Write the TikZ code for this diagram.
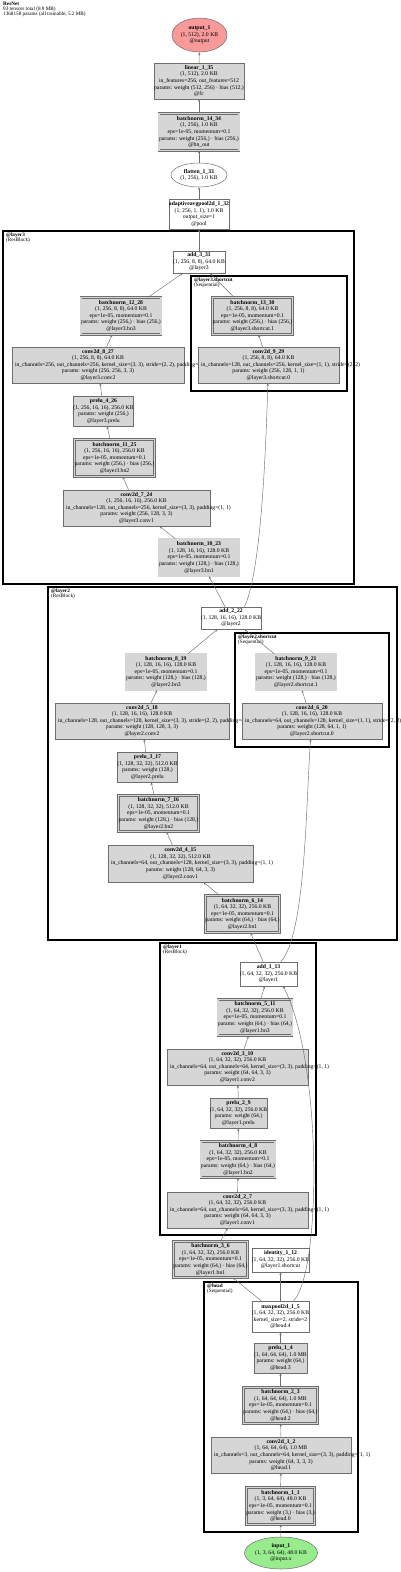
\documentclass[tikz,border=0pt]{standalone}
\usepackage{fontspec}
\setmainfont{Liberation Serif}
\usepackage{xcolor}
\usepackage{tikz}
\usetikzlibrary{arrows.meta,shapes.geometric}
\definecolor{opfill}{HTML}{D6D6D6}
\definecolor{opline}{HTML}{6E6E6E}
\definecolor{outfill}{HTML}{F89A9A}
\definecolor{infill}{HTML}{98EC8E}
% long argument lines run past the box on the right
\newcommand\spill[2]{\makebox[#1pt][l]{#2}}
\tikzset{
  op/.style={draw=opline, fill=opfill, rectangle, align=center, inner sep=0pt,
             font=\fontsize{5.7}{6.6}\selectfont, line width=0.5pt},
  bn/.style={op, double=opfill, double distance=1.6pt},
  plain/.style={op, fill=white},
  io/.style={op, ellipse},
  flow/.style={-{Stealth[length=2.6pt, width=2.2pt]}, opline, line width=0.45pt},
  grp/.style={draw=black, line width=1.4pt},
  grplbl/.style={anchor=north west, align=left, inner sep=0pt,
                 font=\fontsize{5.2}{5}\selectfont},
}

\begin{document}
\begin{tikzpicture}[x=1pt, y=-1pt]
  \useasboundingbox (0,0) rectangle (400,1572);
  % title
  \node[grplbl] at (3,2) (title)
    {\textbf{ResNet}\\93 tensors total (8.9 MB)\\1368158 params (all trainable, 5.2 MB)};
  % clusters
  \draw[grp] (3,231) rectangle (354,584);
  \node[grplbl] at (6,233) (l3lbl) {\textbf{@layer3}\\(ResBlock)};
  \draw[grp] (191,276) rectangle (347,391);
  \node[grplbl] at (194,278) (l3sclbl) {\textbf{@layer3.shortcut}\\(Sequential)};
  \draw[grp] (48,587) rectangle (397,940);
  \node[grplbl] at (51,589) (l2lbl) {\textbf{@layer2}\\(ResBlock)};
  \draw[grp] (235,633) rectangle (389,747);
  \node[grplbl] at (238,635) (l2sclbl) {\textbf{@layer2.shortcut}\\(Sequential)};
  \draw[grp] (160,943) rectangle (316,1235);
  \node[grplbl] at (163,945) (l1lbl) {\textbf{@layer1}\\(ResBlock)};
  \draw[grp] (204,1282) rectangle (358,1532);
  \node[grplbl] at (207,1284) (hdlbl) {\textbf{@head}\\(Sequential)};

  % output side
  \node[io, fill=outfill, minimum width=55, minimum height=34] at (199.5,35)
    (out) {\textbf{output\_1}\\(1, 512), 2.0 KB\\@output};
  \node[op, minimum width=84, minimum height=36] at (199,81)
    (fc) {\textbf{linear\_1\_35}\\(1, 512), 2.0 KB\\in\_features=256, out\_features=512\\params: weight (512, 256) · bias (512,)\\@fc};
  \node[bn, minimum width=73, minimum height=37] at (199,132)
    (bnout) {\textbf{batchnorm\_14\_34}\\(1, 256), 1.0 KB\\eps=1e-05, momentum=0.1\\params: weight (256,) · bias (256,)\\@bn\_out};
  \node[io, fill=white, minimum width=56, minimum height=24] at (199,175)
    (flat) {\textbf{flatten\_1\_33}\\(1, 256), 1.0 KB};
  \node[plain, minimum width=58, minimum height=30] at (199,214)
    (pool) {\textbf{adaptiveavgpool2d\_1\_32}\\(1, 256, 1, 1), 1.0 KB\\output\_size=1\\@pool};

  % layer3
  \node[plain, minimum width=52, minimum height=22] at (199,262)
    (add3) {\textbf{add\_3\_31}\\(1, 256, 8, 8), 64.0 KB\\@layer3};
  \node[bn, minimum width=73, minimum height=37] at (121,316)
    (bn12) {\textbf{batchnorm\_12\_28}\\(1, 256, 8, 8), 64.0 KB\\eps=1e-05, momentum=0.1\\params: weight (256,) · bias (256,)\\@layer3.bn3};
  \node[bn, minimum width=74, minimum height=37] at (252.5,316)
    (bn13) {\textbf{batchnorm\_13\_30}\\(1, 256, 8, 8), 64.0 KB\\eps=1e-05, momentum=0.1\\params: weight (256,) · bias (256,)\\@layer3.shortcut.1};
  \node[op, minimum width=172, minimum height=36] at (98,365)
    (conv8) {\textbf{conv2d\_8\_27}\\(1, 256, 8, 8), 64.0 KB\\\spill{166}{in\_channels=256, out\_channels=256, kernel\_size=(3, 3), stride=(2, 2), padding=(1, 1)}\\params: weight (256, 256, 3, 3)\\@layer3.conv2};
  \node[op, minimum width=141, minimum height=36] at (268.5,365)
    (conv9) {\textbf{conv2d\_9\_29}\\(1, 256, 8, 8), 64.0 KB\\\spill{135}{in\_channels=128, out\_channels=256, kernel\_size=(1, 1), stride=(2, 2)}\\params: weight (256, 128, 1, 1)\\@layer3.shortcut.0};
  \node[op, minimum width=59, minimum height=30] at (103.5,411)
    (prelu4) {\textbf{prelu\_4\_26}\\(1, 256, 16, 16), 256.0 KB\\params: weight (256,)\\@layer3.prelu};
  \node[bn, minimum width=74, minimum height=37] at (114.5,458)
    (bn11) {\textbf{batchnorm\_11\_25}\\(1, 256, 16, 16), 256.0 KB\\eps=1e-05, momentum=0.1\\params: weight (256,) · bias (256,)\\@layer3.bn2};
  \node[op, minimum width=147, minimum height=36] at (136.5,508)
    (conv7) {\textbf{conv2d\_7\_24}\\(1, 256, 16, 16), 256.0 KB\\\spill{141}{in\_channels=128, out\_channels=256, kernel\_size=(3, 3), padding=(1, 1)}\\params: weight (256, 128, 3, 3)\\@layer3.conv1};
  \node[bn, minimum width=73, minimum height=37] at (199,557.5)
    (bn10) {\textbf{batchnorm\_10\_23}\\(1, 128, 16, 16), 128.0 KB\\eps=1e-05, momentum=0.1\\params: weight (128,) · bias (128,)\\@layer3.bn1};

  % layer2
  \node[plain, minimum width=58, minimum height=22] at (231,618)
    (add2) {\textbf{add\_2\_22}\\(1, 128, 16, 16), 128.0 KB\\@layer2};
  \node[bn, minimum width=73, minimum height=36] at (166,672)
    (bn8) {\textbf{batchnorm\_8\_19}\\(1, 128, 16, 16), 128.0 KB\\eps=1e-05, momentum=0.1\\params: weight (128,) · bias (128,)\\@layer2.bn3};
  \node[bn, minimum width=73, minimum height=36] at (296,672)
    (bn9) {\textbf{batchnorm\_9\_21}\\(1, 128, 16, 16), 128.0 KB\\eps=1e-05, momentum=0.1\\params: weight (128,) · bias (128,)\\@layer2.shortcut.1};
  \node[op, minimum width=174, minimum height=36] at (142,721)
    (conv5) {\textbf{conv2d\_5\_18}\\(1, 128, 16, 16), 128.0 KB\\\spill{168}{in\_channels=128, out\_channels=128, kernel\_size=(3, 3), stride=(2, 2), padding=(1, 1)}\\params: weight (128, 128, 3, 3)\\@layer2.conv2};
  \node[op, minimum width=140, minimum height=36] at (312,721)
    (conv6) {\textbf{conv2d\_6\_20}\\(1, 128, 16, 16), 128.0 KB\\\spill{134}{in\_channels=64, out\_channels=128, kernel\_size=(1, 1), stride=(2, 2)}\\params: weight (128, 64, 1, 1)\\@layer2.shortcut.0};
  \node[op, minimum width=59, minimum height=30] at (147.5,767)
    (prelu3) {\textbf{prelu\_3\_17}\\(1, 128, 32, 32), 512.0 KB\\params: weight (128,)\\@layer2.prelu};
  \node[bn, minimum width=74, minimum height=36] at (158.5,813.5)
    (bn7) {\textbf{batchnorm\_7\_16}\\(1, 128, 32, 32), 512.0 KB\\eps=1e-05, momentum=0.1\\params: weight (128,) · bias (128,)\\@layer2.bn2};
  \node[op, minimum width=145, minimum height=37] at (180.5,863.5)
    (conv4) {\textbf{conv2d\_4\_15}\\(1, 128, 32, 32), 512.0 KB\\\spill{139}{in\_channels=64, out\_channels=128, kernel\_size=(3, 3), padding=(1, 1)}\\params: weight (128, 64, 3, 3)\\@layer2.conv1};
  \node[bn, minimum width=68, minimum height=37] at (242.5,914)
    (bn6) {\textbf{batchnorm\_6\_14}\\(1, 64, 32, 32), 256.0 KB\\eps=1e-05, momentum=0.1\\params: weight (64,) · bias (64,)\\@layer2.bn1};

  % layer1
  \node[plain, minimum width=57, minimum height=24] at (268.5,974)
    (add1) {\textbf{add\_1\_13}\\(1, 64, 32, 32), 256.0 KB\\@layer1};
  \node[bn, minimum width=69, minimum height=36] at (255,1017.5)
    (bn5) {\textbf{batchnorm\_5\_11}\\(1, 64, 32, 32), 256.0 KB\\eps=1e-05, momentum=0.1\\params: weight (64,) · bias (64,)\\@layer1.bn3};
  \node[op, minimum width=141, minimum height=36] at (237.5,1067)
    (conv3) {\textbf{conv2d\_3\_10}\\(1, 64, 32, 32), 256.0 KB\\\spill{135}{in\_channels=64, out\_channels=64, kernel\_size=(3, 3), padding=(1, 1)}\\params: weight (64, 64, 3, 3)\\@layer1.conv2};
  \node[op, minimum width=57, minimum height=30] at (238.5,1113)
    (prelu2) {\textbf{prelu\_2\_9}\\(1, 64, 32, 32), 256.0 KB\\params: weight (64,)\\@layer1.prelu};
  \node[bn, minimum width=69, minimum height=36] at (238,1159.5)
    (bn4) {\textbf{batchnorm\_4\_8}\\(1, 64, 32, 32), 256.0 KB\\eps=1e-05, momentum=0.1\\params: weight (64,) · bias (64,)\\@layer1.bn2};
  \node[op, minimum width=141, minimum height=36] at (237.5,1210)
    (conv2) {\textbf{conv2d\_2\_7}\\(1, 64, 32, 32), 256.0 KB\\\spill{135}{in\_channels=64, out\_channels=64, kernel\_size=(3, 3), padding=(1, 1)}\\params: weight (64, 64, 3, 3)\\@layer1.conv1};
  \node[bn, minimum width=70, minimum height=36] at (210.5,1259.5)
    (bn3) {\textbf{batchnorm\_3\_6}\\(1, 64, 32, 32), 256.0 KB\\eps=1e-05, momentum=0.1\\params: weight (64,) · bias (64,)\\@layer1.bn1};
  \node[plain, minimum width=57, minimum height=24] at (280.5,1260)
    (ident) {\textbf{identity\_1\_12}\\(1, 64, 32, 32), 256.0 KB\\@layer1.shortcut};

  % head
  \node[plain, minimum width=57, minimum height=31] at (280.5,1316.5)
    (mpool) {\textbf{maxpool2d\_1\_5}\\(1, 64, 32, 32), 256.0 KB\\kernel\_size=2, stride=2\\@head.4};
  \node[op, minimum width=53, minimum height=30] at (280.5,1358)
    (prelu1) {\textbf{prelu\_1\_4}\\(1, 64, 64, 64), 1.0 MB\\params: weight (64,)\\@head.3};
  \node[bn, minimum width=70, minimum height=36] at (280.5,1405.5)
    (bn2) {\textbf{batchnorm\_2\_3}\\(1, 64, 64, 64), 1.0 MB\\eps=1e-05, momentum=0.1\\params: weight (64,) · bias (64,)\\@head.2};
  \node[op, minimum width=140, minimum height=36] at (281,1455)
    (conv1) {\textbf{conv2d\_1\_2}\\(1, 64, 64, 64), 1.0 MB\\\spill{134}{in\_channels=3, out\_channels=64, kernel\_size=(3, 3), padding=(1, 1)}\\params: weight (64, 3, 3, 3)\\@head.1};
  \node[bn, minimum width=64, minimum height=37] at (280.5,1506)
    (bn1) {\textbf{batchnorm\_1\_1}\\(1, 3, 64, 64), 48.0 KB\\eps=1e-05, momentum=0.1\\params: weight (3,) · bias (3,)\\@head.0};
  \node[io, fill=infill, minimum width=72, minimum height=32] at (281,1553)
    (inp) {\textbf{input\_1}\\(1, 3, 64, 64), 48.0 KB\\@input.x};

  % edges, bottom to top
  \draw[flow] (inp) -- (bn1);
  \draw[flow] (bn1) -- (conv1);
  \draw[flow] (conv1) -- (bn2);
  \draw[flow] (bn2) -- (prelu1);
  \draw[flow] (prelu1) -- (mpool);
  \draw[flow] (mpool) -- (bn3);
  \draw[flow] (mpool) -- (ident);
  \draw[flow] (mpool.50) .. controls (322,1270) and (322,1060) .. (add1.-40);
  \draw[flow] (bn3) -- (conv2);
  \draw[flow] (conv2) -- (bn4);
  \draw[flow] (bn4) -- (prelu2);
  \draw[flow] (prelu2) -- (conv3);
  \draw[flow] (conv3) -- (bn5);
  \draw[flow] (bn5) -- (add1);
  \draw[flow] (add1) -- (bn6);
  \draw[flow] (add1.45) .. controls (306,935) and (306,800) .. (conv6);
  \draw[flow] (bn6) -- (conv4);
  \draw[flow] (conv4) -- (bn7);
  \draw[flow] (bn7) -- (prelu3);
  \draw[flow] (prelu3) -- (conv5);
  \draw[flow] (conv5) -- (bn8);
  \draw[flow] (bn8) -- (add2);
  \draw[flow] (conv6) -- (bn9);
  \draw[flow] (bn9) -- (add2);
  \draw[flow] (add2) -- (bn10);
  \draw[flow] (add2.40) .. controls (262,570) and (266,440) .. (conv9);
  \draw[flow] (bn10) -- (conv7);
  \draw[flow] (conv7) -- (bn11);
  \draw[flow] (bn11) -- (prelu4);
  \draw[flow] (prelu4) -- (conv8);
  \draw[flow] (conv8) -- (bn12);
  \draw[flow] (bn12) -- (add3);
  \draw[flow] (conv9) -- (bn13);
  \draw[flow] (bn13) -- (add3);
  \draw[flow] (add3) -- (pool);
  \draw[flow] (pool) -- (flat);
  \draw[flow] (flat) -- (bnout);
  \draw[flow] (bnout) -- (fc);
  \draw[flow] (fc) -- (out);
\end{tikzpicture}
\end{document}
